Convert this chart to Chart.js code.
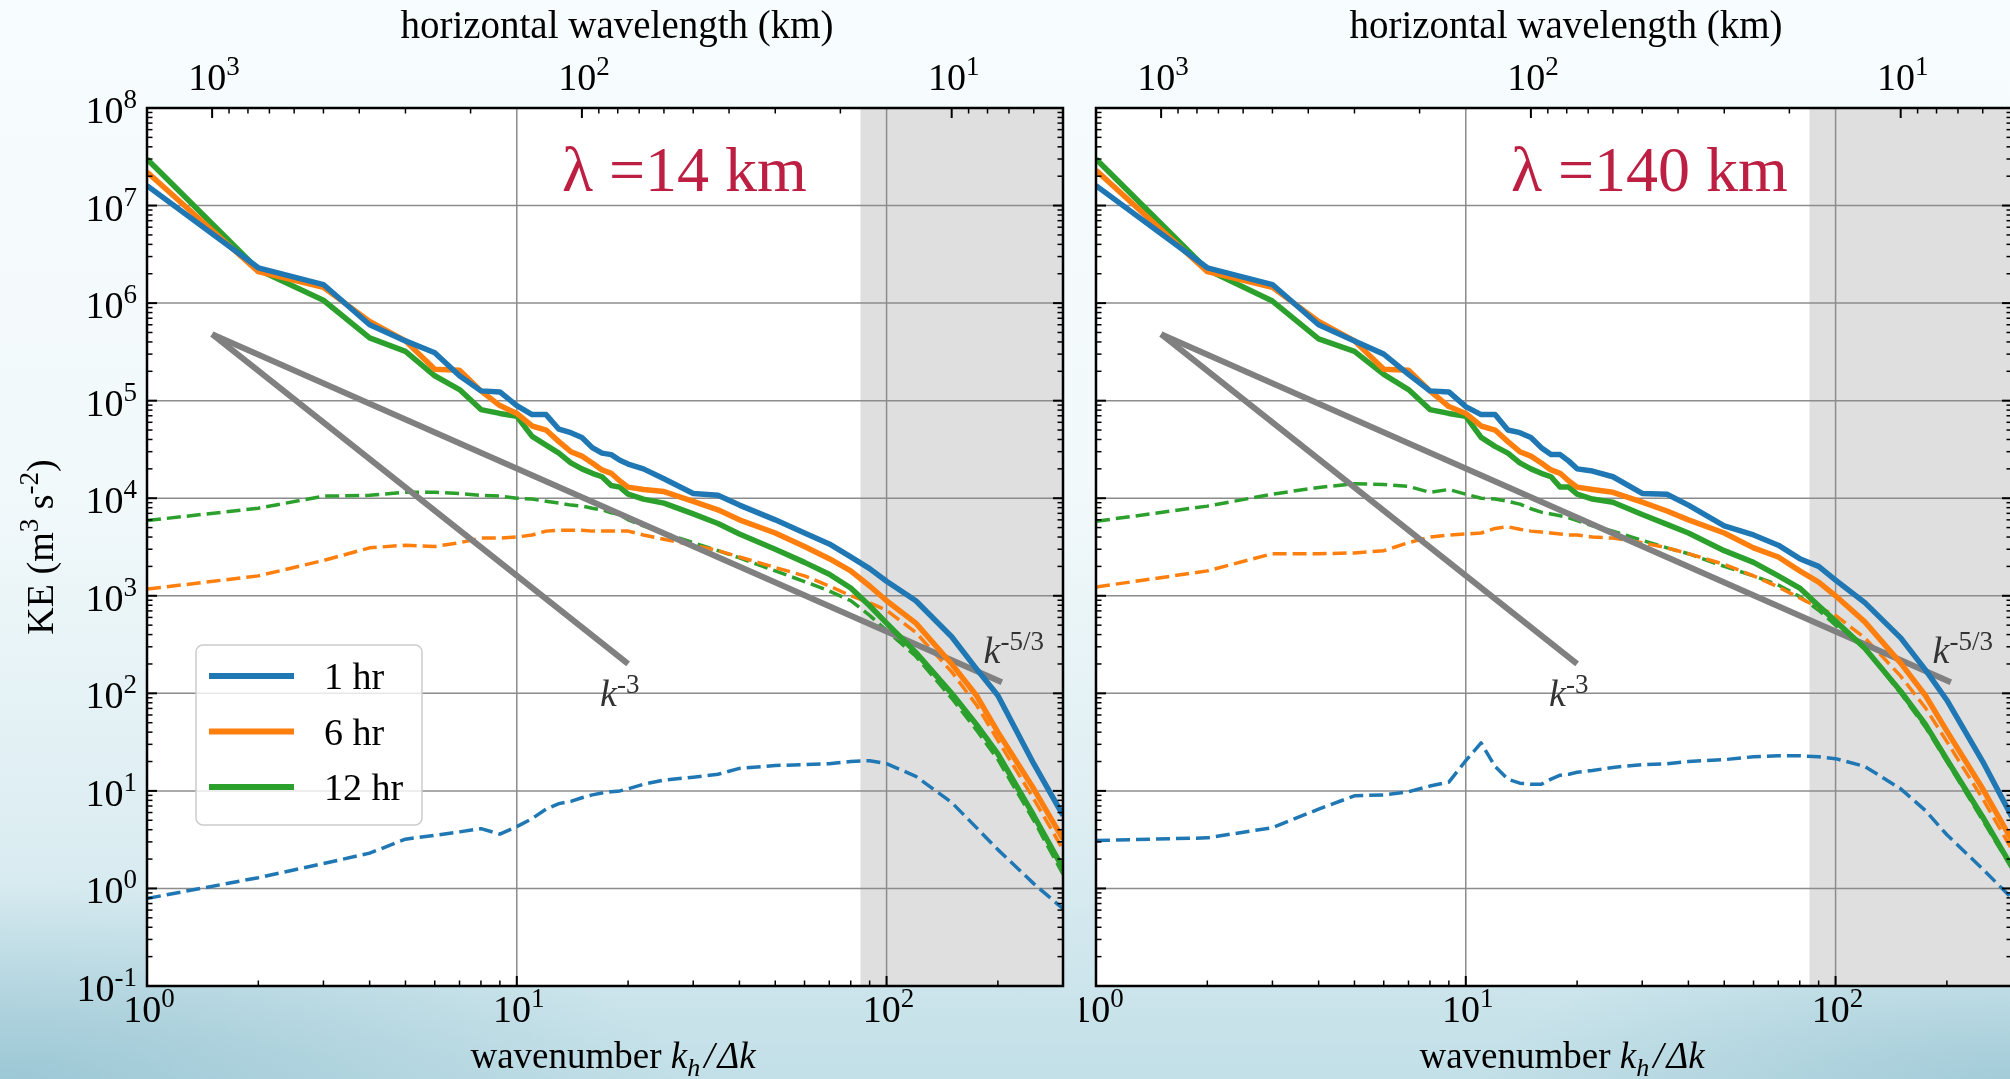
<!DOCTYPE html>
<html lang="en">
<head>
<meta charset="UTF-8">
<title>KE spectra</title>
<script src="https://cdn.jsdelivr.net/npm/chart.js"></script>
<style>
  html, body { margin: 0; padding: 0; width: 2010px; height: 1079px; overflow: hidden; }
  body {
    position: relative;
    background:
      radial-gradient(ellipse 900px 260px at 0% 100%, rgba(125,180,198,0.55), rgba(125,180,198,0) 75%),
      radial-gradient(ellipse 700px 200px at 100% 100%, rgba(125,180,198,0.45), rgba(125,180,198,0) 75%),
      linear-gradient(to bottom, #f7fcfe 0%, #f2f9fb 45%, #dcedf2 78%, #c2dfe7 100%);
  }
  canvas { position: absolute; top: 0; }
  #left { left: 0; }
  #right { left: 1080px; }
</style>
</head>
<body>
<canvas id="left" width="1080" height="1079"></canvas>
<canvas id="right" width="934" height="1079"></canvas>

<script>
// wavenumber k_h / dk
const K = [1,2,3,4,5,6,7,8,9,10,11,12,13,14,15,16,17,18,19,20,22,25,30,35,40,50,60,70,80,90,100,120,150,175,200,250,300];

// left panel (lambda = 14 km)
const left1hr  = [1.6e7,2.3e6,1.55e6,6.0e5,4.1e5,3.1e5,1.8e5,1.26e5,1.23e5,8.9e4,7.2e4,7.2e4,5.1e4,4.7e4,4.2e4,3.3e4,2.9e4,2.8e4,2.45e4,2.24e4,2.0e4,1.58e4,1.12e4,1.07e4,8.5e3,6.0e3,4.4e3,3.4e3,2.5e3,1.9e3,1.41e3,890,380,178,95,19,5.6];
const left6hr  = [2.2e7,2.1e6,1.45e6,6.5e5,4.1e5,2.1e5,2.05e5,1.26e5,8.9e4,7.4e4,5.5e4,5.0e4,3.8e4,3.0e4,2.7e4,2.3e4,1.95e4,1.8e4,1.5e4,1.3e4,1.23e4,1.17e4,9.3e3,7.6e3,6.0e3,4.4e3,3.2e3,2.4e3,1.8e3,1.26e3,890,525,200,95,40,10.5,3.2];
const left12hr = [3.0e7,2.2e6,1.07e6,4.4e5,3.2e5,1.8e5,1.3e5,8.1e4,7.4e4,6.9e4,4.3e4,3.5e4,2.9e4,2.3e4,2.0e4,1.8e4,1.66e4,1.35e4,1.3e4,1.1e4,9.8e3,8.9e3,6.9e3,5.5e3,4.3e3,3.0e3,2.2e3,1.66e3,1.2e3,790,525,263,100,48,24,5.6,1.6];
const left1hrDash  = [0.79,1.29,1.8,2.3,3.2,3.5,3.8,4.1,3.6,4.3,5.2,6.5,7.4,7.8,8.5,9.1,9.5,9.8,10,10.5,11.7,12.9,13.8,14.8,17,18.2,18.6,19,20,20.4,19,14.1,7.6,4.2,2.5,1.12,0.62];
const left6hrDash  = [1.17e3,1.6e3,2.3e3,3.1e3,3.3e3,3.2e3,3.5e3,3.9e3,3.9e3,4.0e3,4.2e3,4.6e3,4.7e3,4.7e3,4.7e3,4.6e3,4.6e3,4.6e3,4.6e3,4.6e3,4.2e3,3.8e3,3.3e3,2.9e3,2.5e3,1.95e3,1.6e3,1.26e3,1.0e3,850,710,420,166,76,33,8.3,2.5];
const left12hrDash = [5.9e3,7.9e3,1.05e4,1.07e4,1.15e4,1.15e4,1.12e4,1.07e4,1.05e4,1.0e4,9.8e3,9.3e3,8.9e3,8.5e3,8.3e3,7.9e3,7.6e3,7.1e3,6.8e3,6.0e3,5.2e3,4.4e3,3.5e3,2.9e3,2.45e3,1.8e3,1.4e3,1.12e3,890,630,440,240,89,42,21,5.0,1.4];

// right panel (lambda = 140 km)
const right1hr  = [1.6e7,2.3e6,1.55e6,6.0e5,4.1e5,3.0e5,1.86e5,1.26e5,1.23e5,8.7e4,7.2e4,7.2e4,5.0e4,4.7e4,4.2e4,3.3e4,2.8e4,2.8e4,2.4e4,2.0e4,1.9e4,1.66e4,1.12e4,1.1e4,8.5e3,5.2e3,4.2e3,3.3e3,2.4e3,2.0e3,1.45e3,850,370,174,85,20,5.4];
const right6hr  = [2.3e7,2.1e6,1.45e6,6.5e5,4.1e5,2.1e5,2.05e5,1.26e5,8.7e4,7.4e4,5.5e4,5.0e4,3.8e4,3.0e4,2.7e4,2.3e4,1.95e4,1.8e4,1.5e4,1.3e4,1.23e4,1.15e4,9.1e3,7.4e3,6.0e3,4.4e3,3.1e3,2.5e3,1.8e3,1.38e3,1.0e3,540,204,95,41,10.5,3.1];
const right12hr = [3.0e7,2.2e6,1.05e6,4.3e5,3.2e5,1.86e5,1.3e5,8.1e4,7.4e4,6.9e4,4.2e4,3.4e4,2.9e4,2.3e4,2.0e4,1.8e4,1.66e4,1.3e4,1.3e4,1.1e4,9.8e3,9.1e3,6.8e3,5.4e3,4.4e3,2.9e3,2.2e3,1.6e3,1.2e3,790,550,290,105,48,21,5.4,1.66];
const right1hrDash  = [3.1,3.3,4.2,6.5,8.9,9.1,9.8,11.2,12.3,20.4,31,17.8,13.2,12,11.7,11.7,13.2,14.5,14.8,15.5,16.2,17.4,18.6,19,20,20.9,22.4,22.9,22.9,22.4,21.4,17.8,10.5,6.3,3.55,1.58,0.79];
const right6hrDash  = [1.23e3,1.8e3,2.7e3,2.7e3,2.75e3,2.9e3,3.5e3,4.0e3,4.2e3,4.3e3,4.4e3,4.9e3,5.1e3,4.8e3,4.6e3,4.5e3,4.4e3,4.3e3,4.2e3,4.2e3,4.0e3,3.9e3,3.5e3,3.1e3,2.7e3,2.1e3,1.6e3,1.23e3,950,760,630,370,150,71,32,8.3,2.5];
const right12hrDash = [5.8e3,8.3e3,1.1e4,1.29e4,1.41e4,1.38e4,1.32e4,1.15e4,1.23e4,1.1e4,1.0e4,9.8e3,9.3e3,8.7e3,7.8e3,7.2e3,6.9e3,6.6e3,6.3e3,5.9e3,5.2e3,4.6e3,3.7e3,3.1e3,2.7e3,2.0e3,1.6e3,1.29e3,980,710,500,290,100,45,20,5.0,1.6];

// reference slopes: start point and end points [k, KE]
const refStart = [1.5, 4.8e5];
const k3End = [20, 200];
const k53End = [205, 130];

// grey band, wavenumber range
const shadeK = [85, 300];

const seriesNames = ['1 hr', '6 hr', '12 hr'];
const seriesColors = ['#1f77b4', '#ff7f0e', '#2ca02c'];

const yTickExps = [-1, 0, 1, 2, 3, 4, 5, 6, 7, 8];
const xTickExps = [0, 1, 2];
const topTickExps = [3, 2, 1];

const FONT = '"Liberation Serif", "DejaVu Serif", serif';

function fontOf(p) {
  return (p.italic ? 'italic ' : '') + p.size + 'px ' + FONT;
}

// draw a run of text pieces (for exponents, subscripts)
function richText(ctx, parts, x, y, align) {
  let w = 0;
  parts.forEach(p => {
    ctx.font = fontOf(p);
    p.w = ctx.measureText(p.t).width;
    w += p.w + (p.gap || 0);
  });
  let cx = align === 'center' ? x - w / 2 : align === 'right' ? x - w : x;
  ctx.textAlign = 'left';
  parts.forEach(p => {
    ctx.font = fontOf(p);
    ctx.fillText(p.t, cx, y + (p.dy || 0));
    cx += p.w + (p.gap || 0);
  });
}

function pow10(e) {
  return [{t: '10', size: 38}, {t: String(e), size: 27, dy: -15, gap: 0}];
}

function seg(ctx, x0, y0, x1, y1) {
  ctx.beginPath();
  ctx.moveTo(x0, y0);
  ctx.lineTo(x1, y1);
  ctx.stroke();
}

const framePlugin = {
  id: 'frame',
  beforeDraw(chart) {
    const {ctx, chartArea: a, scales: {x, y}} = chart;
    ctx.save();
    ctx.fillStyle = '#ffffff';
    ctx.fillRect(a.left, a.top, a.width, a.height);
    const s0 = x.getPixelForValue(shadeK[0]);
    const s1 = x.getPixelForValue(shadeK[1]);
    ctx.fillStyle = '#dfdfdf';
    ctx.fillRect(s0, a.top, s1 - s0, a.height);
    ctx.strokeStyle = '#8c8c8c';
    ctx.lineWidth = 1.5;
    yTickExps.forEach(e => {
      const py = y.getPixelForValue(Math.pow(10, e));
      seg(ctx, a.left, py, a.right, py);
    });
    xTickExps.forEach(e => {
      const px = x.getPixelForValue(Math.pow(10, e));
      seg(ctx, px, a.top, px, a.bottom);
    });
    ctx.restore();
  },
  afterDraw(chart, args, opts) {
    const {ctx, chartArea: a, scales: {x, y, top}} = chart;
    ctx.save();
    ctx.fillStyle = '#000';
    ctx.strokeStyle = '#000';
    ctx.textBaseline = 'alphabetic';

    // ticks, all pointing inward
    const mult = [2, 3, 4, 5, 6, 7, 8, 9];
    yTickExps.forEach(e => {
      const py = y.getPixelForValue(Math.pow(10, e));
      ctx.lineWidth = 2;
      seg(ctx, a.left, py, a.left + 10, py);
      seg(ctx, a.right, py, a.right - 10, py);
      if (e < 8) mult.forEach(m => {
        const pm = y.getPixelForValue(m * Math.pow(10, e));
        ctx.lineWidth = 1.5;
        seg(ctx, a.left, pm, a.left + 5.5, pm);
        seg(ctx, a.right, pm, a.right - 5.5, pm);
      });
    });
    xTickExps.forEach(e => {
      const px = x.getPixelForValue(Math.pow(10, e));
      ctx.lineWidth = 2;
      seg(ctx, px, a.bottom, px, a.bottom - 10);
      mult.forEach(m => {
        const v = m * Math.pow(10, e);
        if (v >= 300) return;
        const pm = x.getPixelForValue(v);
        ctx.lineWidth = 1.5;
        seg(ctx, pm, a.bottom, pm, a.bottom - 5.5);
      });
    });
    [0, 1, 2, 3].forEach(e => {
      const pv = Math.pow(10, e);
      if (pv >= 5 && pv <= 1500) {
        const px = top.getPixelForValue(pv);
        ctx.lineWidth = 2;
        seg(ctx, px, a.top, px, a.top + 10);
      }
      mult.forEach(m => {
        const v = m * pv;
        if (v < 5 || v > 1500) return;
        const pm = top.getPixelForValue(v);
        ctx.lineWidth = 1.5;
        seg(ctx, pm, a.top, pm, a.top + 5.5);
      });
    });

    // axes frame
    ctx.lineWidth = 2.5;
    ctx.strokeRect(a.left, a.top, a.width, a.height);

    // tick labels
    xTickExps.forEach(e => {
      richText(ctx, pow10(e), x.getPixelForValue(Math.pow(10, e)) + 2, a.bottom + 36, 'center');
    });
    topTickExps.forEach(e => {
      richText(ctx, pow10(e), top.getPixelForValue(Math.pow(10, e)) + 2, a.top - 18, 'center');
    });
    if (opts.yLabels) {
      yTickExps.forEach(e => {
        richText(ctx, pow10(e), a.left - 10, y.getPixelForValue(Math.pow(10, e)) + 15, 'right');
      });
      ctx.save();
      ctx.translate(40, (a.top + a.bottom) / 2);
      ctx.rotate(-Math.PI / 2);
      richText(ctx, [
        {t: 'KE (m', size: 38}, {t: '3', size: 27, dy: -15},
        {t: ' s', size: 38}, {t: '-2', size: 27, dy: -15}, {t: ')', size: 38}
      ], 0, 13, 'center');
      ctx.restore();
    }

    // axis titles
    const cx = (a.left + a.right) / 2 + 12;
    richText(ctx, [{t: 'horizontal wavelength (km)', size: 39}], cx, 38, 'center');
    richText(ctx, [
      {t: 'wavenumber ', size: 37},
      {t: 'k', size: 37, italic: true},
      {t: 'h', size: 26, italic: true, dy: 8, gap: 4},
      {t: '/', size: 37, italic: true, gap: 3},
      {t: '\u0394k', size: 37, italic: true}
    ], cx - 4, 1068, 'center');

    // slope labels
    ctx.fillStyle = '#333';
    richText(ctx, [{t: 'k', size: 38, italic: true}, {t: '-3', size: 27, dy: -13}],
      x.getPixelForValue(16.8), y.getPixelForValue(75), 'left');
    richText(ctx, [{t: 'k', size: 38, italic: true}, {t: '-5/3', size: 27, dy: -13}],
      x.getPixelForValue(183), y.getPixelForValue(204), 'left');

    // lambda label
    ctx.fillStyle = '#bd1f42';
    richText(ctx, [{t: opts.lambda, size: 64}], a.left + 0.453 * a.width, a.top + 83, 'left');

    // legend
    if (opts.legend) {
      const bx = a.left + 49, by = 645, bw = 226, bh = 180, r = 7;
      ctx.beginPath();
      ctx.roundRect(bx, by, bw, bh, r);
      ctx.fillStyle = 'rgba(255,255,255,0.8)';
      ctx.fill();
      ctx.strokeStyle = '#cccccc';
      ctx.lineWidth = 1.5;
      ctx.stroke();
      seriesNames.forEach((name, i) => {
        const ly = 676 + i * 55.5;
        ctx.strokeStyle = seriesColors[i];
        ctx.lineWidth = 6;
        seg(ctx, bx + 13, ly, bx + 98, ly);
        ctx.fillStyle = '#000';
        richText(ctx, [{t: name, size: 38}], bx + 128, ly + 13, 'left');
      });
    }
    ctx.restore();
  }
};

function line(label, data, color, dashed, order) {
  return {
    label,
    data: K.map((k, i) => ({x: k, y: data[i]})),
    borderColor: color,
    borderWidth: dashed ? 3.5 : 5.5,
    borderDash: dashed ? [14, 6] : [],
    borderJoinStyle: 'round',
    pointRadius: 0,
    tension: 0,
    fill: false,
    order
  };
}

function refLine(end) {
  return {
    label: 'slope',
    data: [{x: refStart[0], y: refStart[1]}, {x: end[0], y: end[1]}],
    borderColor: '#808080',
    borderWidth: 6,
    pointRadius: 0,
    fill: false,
    order: 1
  };
}

function makeChart(id, solid, dashed, pad, opts) {
  const datasets = [];
  solid.forEach((d, i) => datasets.push(line(seriesNames[i], d, seriesColors[i], false, 0)));
  datasets.push(refLine(k3End), refLine(k53End));
  dashed.forEach((d, i) => datasets.push(line(seriesNames[i] + ' dashed', d, seriesColors[i], true, 2)));
  return new Chart(document.getElementById(id), {
    type: 'line',
    data: {datasets},
    options: {
      responsive: false,
      animation: false,
      layout: {padding: pad},
      plugins: {legend: {display: false}, tooltip: {enabled: false}, frame: opts},
      scales: {
        x: {type: 'logarithmic', min: 1, max: 300, bounds: 'data', display: false},
        y: {type: 'logarithmic', min: 0.1, max: 1e8, bounds: 'data', display: false},
        top: {type: 'logarithmic', position: 'top', axis: 'x', min: 5, max: 1500, reverse: true, bounds: 'data', display: false}
      }
    },
    plugins: [framePlugin]
  });
}

makeChart('left', [left1hr, left6hr, left12hr], [left1hrDash, left6hrDash, left12hrDash],
  {left: 147, top: 108, right: 17, bottom: 93},
  {yLabels: true, legend: true, lambda: '\u03bb =14 km'});

makeChart('right', [right1hr, right6hr, right12hr], [right1hrDash, right6hrDash, right12hrDash],
  {left: 16, top: 108, right: 2, bottom: 93},
  {yLabels: false, legend: false, lambda: '\u03bb =140 km'});
</script>
</body>
</html>
